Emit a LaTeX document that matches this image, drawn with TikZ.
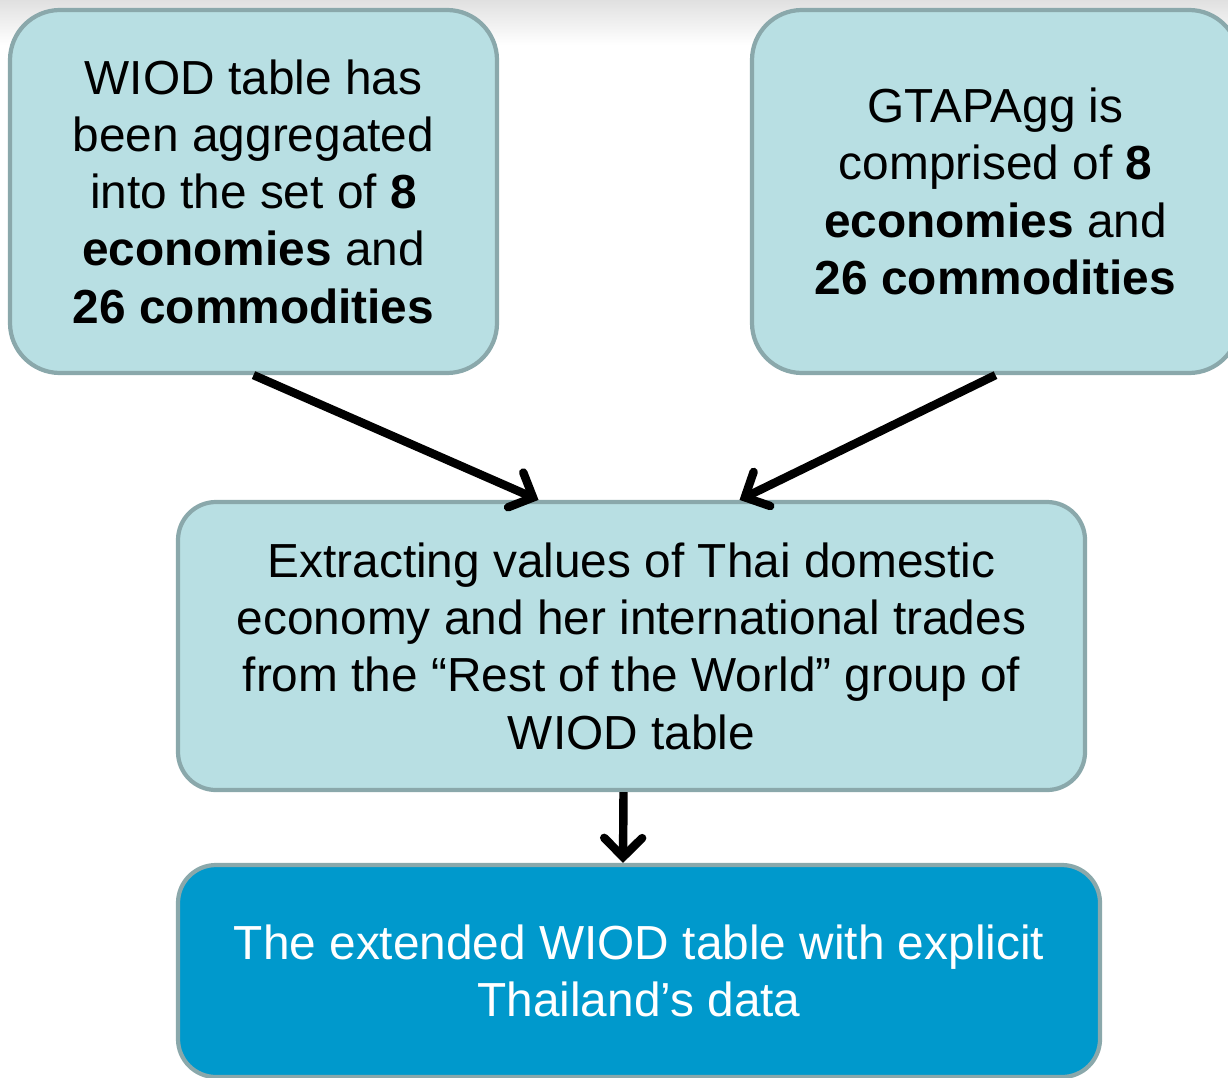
\documentclass[tikz,border=0pt]{standalone}
\usepackage{fontspec}
\setmainfont{Liberation Sans}
\usepackage{xcolor}
\usetikzlibrary{arrows}

\definecolor{boxfill}{HTML}{B8DFE3}
\definecolor{boxline}{HTML}{8AA8AB}
\definecolor{darkfill}{HTML}{0099CC}

\tikzset{
	lightbox/.style={draw=boxline,fill=boxfill,line width=1.2pt,align=center,
		font=\fontsize{13.6}{16.3}\selectfont,inner sep=0pt},
	darkbox/.style={lightbox,fill=darkfill,text=white}
}

\begin{document}
\begin{tikzpicture}
		\useasboundingbox (0,0) rectangle (12.28,-10.77);
		\shade[top color=black!12,bottom color=white] (0,0) rectangle (12.28,-0.45);
		%
		\node[lightbox,minimum width=4.87cm,minimum height=3.63cm,rounded corners=0.5cm] (wiod) at (2.535,-1.915)
			{WIOD table has\\been aggregated\\into the set of \textbf{8}\\\textbf{economies} and\\\textbf{26 commodities}};
		\node[lightbox,minimum width=4.87cm,minimum height=3.63cm,rounded corners=0.5cm] (gtap) at (9.955,-1.915)
			{GTAPAgg is\\comprised of \textbf{8}\\\textbf{economies} and\\\textbf{26 commodities}};
		\node[lightbox,minimum width=9.07cm,minimum height=2.88cm,rounded corners=0.38cm] (extract) at (6.315,-6.46)
			{Extracting values of Thai domestic\\economy and her international trades\\from the “Rest of the World” group of\\WIOD table};
		\node[darkbox,minimum width=9.22cm,minimum height=2.12cm,rounded corners=0.38cm] (result) at (6.39,-9.71)
			{The extended WIOD table with explicit\\Thailand’s data};
		%
		\path[->,line width=2.4pt,>=angle 90]
		(wiod.south) edge ([xshift=-0.93cm]extract.north)
		(gtap.south) edge ([xshift=1.08cm]extract.north)
		([xshift=-0.08cm]extract.south) edge ([xshift=-0.16cm]result.north);
\end{tikzpicture}
\end{document}
